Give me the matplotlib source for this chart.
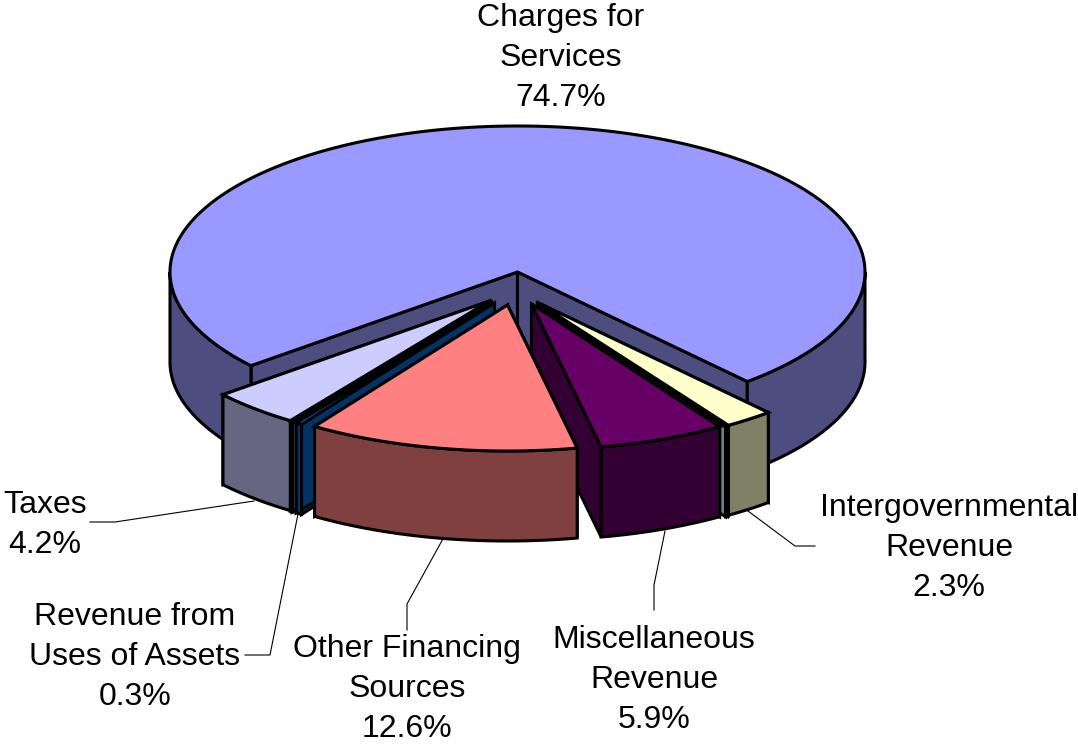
import numpy as np
import matplotlib
matplotlib.use("Agg")
import matplotlib.pyplot as plt
from matplotlib.patches import Polygon

plt.rcParams['font.family'] = ['Liberation Sans', 'DejaVu Sans']

categories = ["Intergovernmental\nRevenue", "", "Miscellaneous\nRevenue", "Other Financing\nSources",
              "Revenue from\nUses of Assets", "", "Taxes", "Charges for\nServices"]
shares = [2.3, 0.1, 5.9, 12.6, 0.3, 0.05, 4.2, 74.7]

# ---- styles
top_colors = ["#FFFFCC", "#6B9090", "#660066", "#FF8080", "#0066CC", "#C8C8C8", "#CCCCFF", "#9999FF"]
side_colors = ["#808066", "#668080", "#330033", "#804040", "#003366", "#8A8A98", "#666680", "#4D4D80"]
explode_x = [21, 20, 14, -10, -23, -26.5, -28, 0]
explode_y = [31, 32, 32, 33, 31, 30, 29, 0]
draw_order = [7, 6, 5, 4, 0, 1, 2, 3]

# ---- layout
W, H = 1078, 744
CX, CY, A, B, DEPTH = 517.5, 272.0, 347.5, 146.0, 90.0
START = 48.6
LW = 2.2
label_pos = {0: (949, 548), 2: (654, 680), 3: (407, 689), 4: (135, 657), 6: (45, 525), 7: (561, 58)}
leaders = {0: ([815, 795, 748], [546, 546, 511]),
           2: ([654, 654, 665], [610, 585, 531]),
           3: ([407, 407, 444], [630, 604, 537]),
           4: ([245, 270, 298], [655, 655, 514]),
           6: ([90, 115, 254], [522, 522, 501])}

fig = plt.figure(figsize=(W / 100, H / 100), dpi=100)
ax = fig.add_axes([0, 0, 1, 1])
ax.set_xlim(0, W)
ax.set_ylim(H, 0)
ax.axis("off")

shares_arr = np.array(shares, dtype=float)
sweeps = shares_arr / shares_arr.sum() * 360.0
starts = START + np.concatenate([[0], np.cumsum(sweeps)[:-1]])


def rim(t_deg, ox, oy, dz=0.0):
    t = np.radians(t_deg)
    return np.column_stack([CX + ox + A * np.cos(t), CY + oy + B * np.sin(t) + dz])


def poly(pts, color, z):
    ax.add_patch(Polygon(pts, closed=True, facecolor=color, edgecolor="black",
                         linewidth=LW, joinstyle="miter", zorder=z))


z = 2
for i in draw_order:
    t0, t1 = starts[i], starts[i] + sweeps[i]
    ox, oy = explode_x[i], explode_y[i]
    apex = np.array([CX + ox, CY + oy])
    down = np.array([0, DEPTH])
    side, top = side_colors[i], top_colors[i]
    # radial cut faces
    for t in (t0, t1):
        e = rim(np.array([t]), ox, oy)[0]
        poly([apex, e, e + down, apex + down], side, z)
        z += 1
    # outer wall: only the part turned towards the viewer (sin t > 0)
    for k in (0, 1):
        lo, hi = max(t0, k * 360), min(t1, k * 360 + 180)
        if hi > lo:
            ts = np.linspace(lo, hi, 120)
            upper = rim(ts, ox, oy)
            lower = rim(ts[::-1], ox, oy, DEPTH)
            poly(np.vstack([upper, lower]), side, z)
            z += 1
    # top face
    ts = np.linspace(t0, t1, max(3, int(sweeps[i] * 3)))
    poly(np.vstack([[apex], rim(ts, ox, oy)]), top, z)
    z += 1

for i, (lx, ly) in leaders.items():
    ax.plot(lx, ly, color="black", lw=0.8, zorder=1, solid_joinstyle="miter")

for i, (x, y) in label_pos.items():
    ax.text(x, y, f"{categories[i]}\n{shares[i]:.1f}%", ha="center", va="center",
            fontsize=23, linespacing=1.42, color="black", zorder=200)

fig.savefig("out.png", dpi=100, facecolor="white")
